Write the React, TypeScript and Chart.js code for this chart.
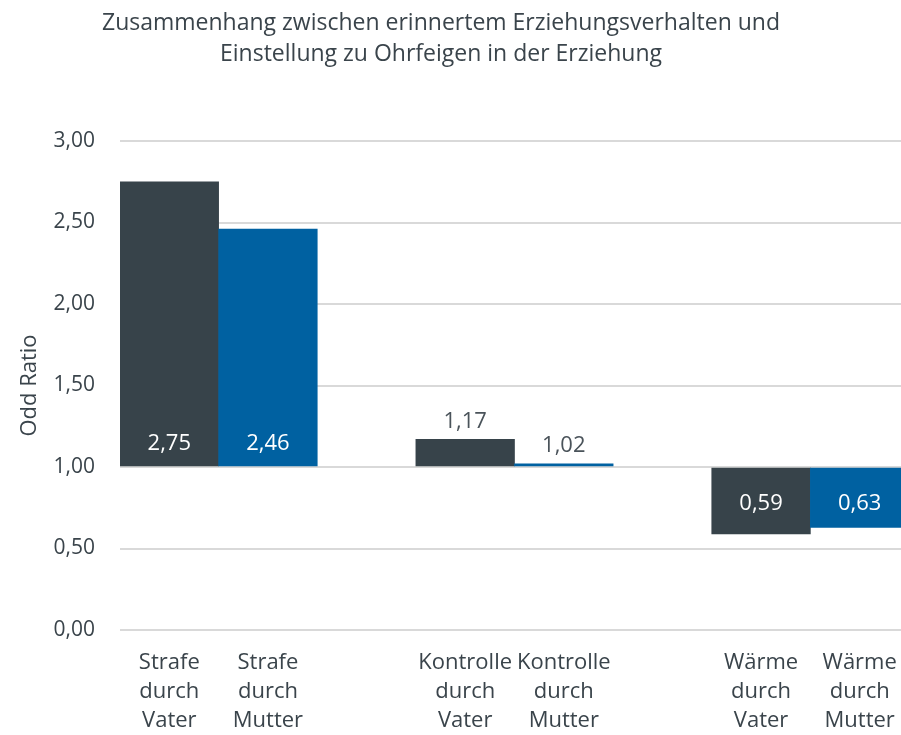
import React, { useEffect, useRef } from "react";
import { Chart, registerables } from "chart.js";

Chart.register(...registerables);

const titleLines = [
  "Zusammenhang zwischen erinnertem Erziehungsverhalten und",
  "Einstellung zu Ohrfeigen in der Erziehung",
];
const categories: string[][] = [
  ["Strafe", "durch", "Vater"],
  ["Strafe", "durch", "Mutter"],
  [""],
  ["Kontrolle", "durch", "Vater"],
  ["Kontrolle", "durch", "Mutter"],
  [""],
  ["Wärme", "durch", "Vater"],
  ["Wärme", "durch", "Mutter"],
];
const values: (number | null)[] = [2.75, 2.46, null, 1.17, 1.02, null, 0.59, 0.63];
const barColors = ["#37434a", "#0061a1", "#37434a", "#37434a", "#0061a1", "#37434a", "#37434a", "#0061a1"];
const BASE = 1;
const yAxisTitle = "Odd Ratio";

const FONT = "'Open Sans', sans-serif";
const TEXT = "#3a444b";

const fmt = (v: number) => v.toFixed(2).replace(".", ",");

const labelPlugin = {
  id: "valueLabels",
  afterDatasetsDraw(chart: any) {
    const ctx = chart.ctx;
    const meta = chart.getDatasetMeta(0);
    ctx.save();
    ctx.font = `22px ${FONT}`;
    ctx.textAlign = "center";
    ctx.textBaseline = "middle";
    meta.data.forEach((bar: any, i: number) => {
      const v = values[i];
      if (v == null) return;
      const props = bar.getProps(["x", "y", "base"], true);
      let y: number;
      let color: string;
      if (v >= 1.5) {
        y = props.base - 22;
        color = "#ffffff";
      } else if (v >= 1) {
        y = props.y - 18;
        color = "#4a535a";
      } else {
        y = props.base + 36;
        color = "#ffffff";
      }
      ctx.fillStyle = color;
      ctx.fillText(fmt(v), props.x, y);
    });
    ctx.restore();
  },
};

const titlePlugin = {
  id: "customTitle",
  afterDraw(chart: any) {
    const ctx = chart.ctx;
    ctx.save();
    ctx.font = `23px ${FONT}`;
    ctx.fillStyle = TEXT;
    ctx.textAlign = "center";
    ctx.textBaseline = "middle";
    titleLines.forEach((t, i) => ctx.fillText(t, 441, 23 + i * 31));
    ctx.restore();
  },
};

export default function App() {
  const ref = useRef<HTMLCanvasElement | null>(null);
  useEffect(() => {
    if (!ref.current) return;
    const chart = new Chart(ref.current, {
      type: "bar",
      data: {
        labels: categories,
        datasets: [
          {
            data: values as any,
            base: BASE,
            backgroundColor: barColors,
            barPercentage: 1,
            categoryPercentage: 1,
            borderWidth: 0,
          } as any,
        ],
      },
      options: {
        responsive: false,
        animation: false,
        layout: { padding: { top: 141, left: 0, right: 21, bottom: 0 } },
        plugins: {
          legend: { display: false },
          title: { display: false },
          tooltip: { enabled: false },
        },
        scales: {
          x: {
            grid: { display: false, drawTicks: false },
            border: { display: false },
            ticks: {
              color: TEXT,
              font: { family: FONT, size: 22, lineHeight: 1.33 },
              padding: 18,
              maxRotation: 0,
              autoSkip: false,
            },
            afterFit(scale: any) {
              scale.height = 105;
            },
          },
          y: {
            min: 0,
            max: 3,
            grid: { color: "#d9d9d9", lineWidth: 2, drawTicks: false },
            border: { display: false },
            ticks: {
              stepSize: 0.5,
              color: TEXT,
              font: { family: FONT, size: 21 },
              padding: 25,
              callback: (v: any) => fmt(Number(v)),
            },
            title: {
              display: true,
              text: yAxisTitle,
              color: TEXT,
              font: { family: FONT, size: 22 },
              padding: { top: 17, bottom: 0 },
            },
            afterFit(scale: any) {
              scale.width = 120;
            },
          },
        },
      },
      plugins: [labelPlugin, titlePlugin],
    });
    return () => chart.destroy();
  }, []);
  return (
    <div style={{ position: "fixed", left: 0, top: 0, width: 901, height: 735, overflow: "hidden", background: "#fff" }}>
      <canvas ref={ref} width={930} height={735} style={{ display: "block", width: 930, height: 735 }} />
    </div>
  );
}
